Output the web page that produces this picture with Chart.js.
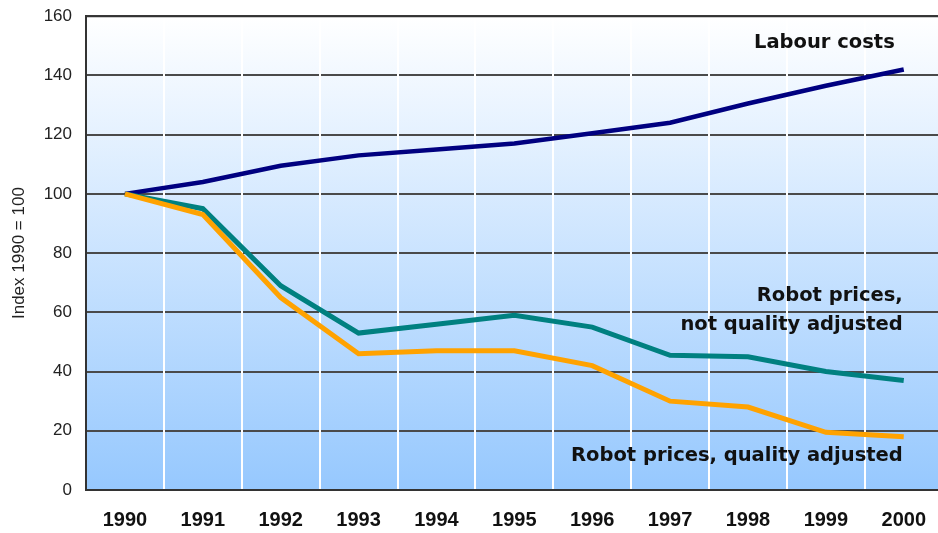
<!DOCTYPE html>
<html>
<head>
<meta charset="utf-8">
<script src="https://cdn.jsdelivr.net/npm/chart.js@4.4.1/dist/chart.umd.min.js"></script>
<style>
  html, body { margin: 0; padding: 0; background: #fff; overflow: hidden; }
  #wrap { position: relative; width: 944px; height: 552px; overflow: hidden; }
  #c { display: block; margin-top: -8px; }
</style>
</head>
<body>
<div id="wrap"><canvas id="c" width="944" height="560"></canvas></div>
<script>
const years = ['1990','1991','1992','1993','1994','1995','1996','1997','1998','1999','2000'];
const labourCosts = [100, 104, 109.5, 113, 115, 117, 120.5, 124, 130.5, 136.5, 142];
const robotNotAdjusted = [100, 95, 69, 53, 56, 59, 55, 45.5, 45, 40, 37];
const robotQualityAdjusted = [100, 93, 65, 46, 47, 47, 42, 30, 28, 19.5, 18];
const yTicks = [0, 20, 40, 60, 80, 100, 120, 140, 160];
const yTitle = 'Index 1990 = 100';
const annotations = [
  { lines: ['Labour costs'], xIndex: 10, dx: -9, value: 151 },
  { lines: ['Robot prices,', 'not quality adjusted'], xIndex: 10, dx: -1, value: 65.5 },
  { lines: ['Robot prices, quality adjusted'], xIndex: 10, dx: -1, value: 11.5 }
];

const bgPlugin = {
  id: 'bg',
  beforeDraw(chart) {
    const { ctx, chartArea: a } = chart;
    const g = ctx.createLinearGradient(0, a.top, 0, a.bottom);
    g.addColorStop(0, '#ffffff');
    g.addColorStop(1, '#96c8fe');
    ctx.save();
    ctx.fillStyle = g;
    ctx.fillRect(a.left, a.top, a.right - a.left, a.bottom - a.top);
    ctx.restore();
  },
  beforeDatasetsDraw(chart) {
    const { ctx, chartArea: a } = chart;
    ctx.save();
    ctx.strokeStyle = '#333333';
    ctx.lineWidth = 2;
    ctx.beginPath();
    ctx.moveTo(a.left, a.top);
    ctx.lineTo(a.right, a.top);
    ctx.stroke();
    ctx.restore();
  },
  afterDatasetsDraw(chart) {
    const { ctx } = chart;
    const xs = chart.scales.x, ys = chart.scales.y;
    ctx.save();
    ctx.fillStyle = '#111111';
    ctx.font = 'bold 19.5px "DejaVu Sans"';
    ctx.textAlign = 'right';
    ctx.textBaseline = 'middle';
    annotations.forEach(an => {
      const x = xs.getPixelForValue(an.xIndex) + an.dx;
      const y0 = ys.getPixelForValue(an.value);
      an.lines.forEach((t, i) => ctx.fillText(t, x, y0 + i * 29));
    });
    ctx.restore();
  }
};

new Chart(document.getElementById('c'), {
  type: 'line',
  data: {
    labels: years,
    datasets: [
      { label: 'Robot prices, quality adjusted', data: robotQualityAdjusted, borderColor: '#ffa200', borderWidth: 5 },
      { label: 'Robot prices, not quality adjusted', data: robotNotAdjusted, borderColor: '#008080', borderWidth: 5 },
      { label: 'Labour costs', data: labourCosts, borderColor: '#000080', borderWidth: 4.5 }
    ]
  },
  options: {
    responsive: false,
    animation: false,
    devicePixelRatio: 1,
    elements: { point: { radius: 0 }, line: { tension: 0, borderCapStyle: 'butt', borderJoinStyle: 'miter' } },
    layout: { padding: { top: 7, right: 0, bottom: 2, left: 0 } },
    plugins: { legend: { display: false }, tooltip: { enabled: false } },
    scales: {
      x: {
        offset: true,
        grid: { offset: true, color: '#ffffff', lineWidth: 2, drawTicks: false, z: -1 },
        border: { color: '#333333', width: 2 },
        ticks: { color: '#111111', font: { family: '"Liberation Sans"', size: 20, weight: 'bold' }, padding: 18, maxRotation: 0 }
      },
      y: {
        min: 0, max: 160,
        afterBuildTicks(scale) { scale.ticks = yTicks.map(v => ({ value: v })); },
        afterFit(scale) { scale.width = 86; },
        grid: { color: '#4a4a4a', lineWidth: 2, drawTicks: false, z: -2 },
        border: { color: '#333333', width: 2 },
        ticks: { color: '#222222', font: { family: '"Liberation Sans"', size: 17 }, padding: 14 },
        title: { display: true, text: yTitle, color: '#222222', font: { family: '"Liberation Sans"', size: 17 }, padding: { top: 9, bottom: 0 } }
      }
    }
  },
  plugins: [bgPlugin]
});
</script>
</body>
</html>
